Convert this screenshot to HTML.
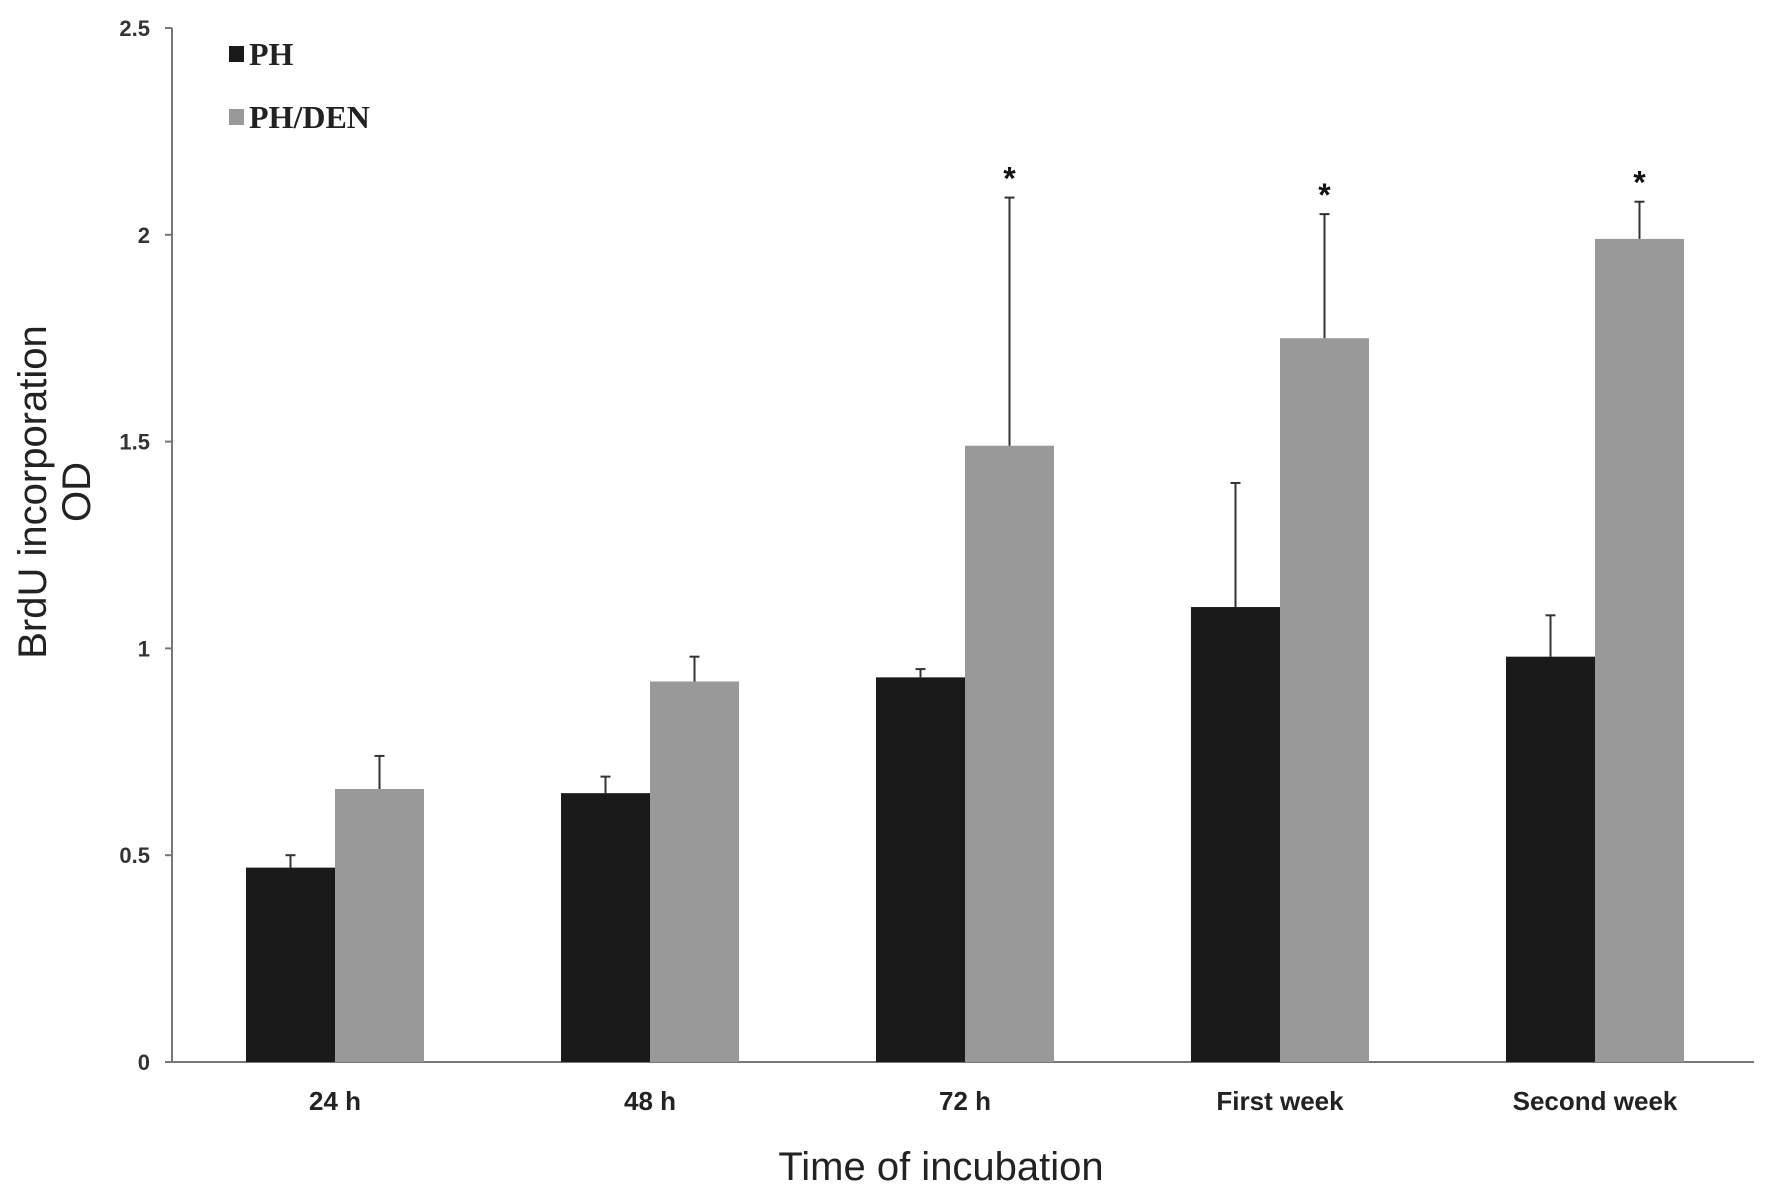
<!DOCTYPE html>
<html><head><meta charset="utf-8"><style>
body{margin:0;background:#fff;}
svg{display:block;font-family:"Liberation Sans",sans-serif;}
</style></head><body>
<svg id="chart" width="1772" height="1197" viewBox="0 0 1772 1197">
<g id="axes"></g><g id="bars"></g>
<g>
<rect x="229" y="46" width="15" height="16" fill="#1a1a1a"/>
<text x="249" y="65" font-family="Liberation Serif,serif" font-weight="bold" font-size="32" fill="#222" transform="scale(1,1)">PH</text>
<rect x="229" y="109" width="15" height="16" fill="#999"/>
<text x="249" y="128" font-family="Liberation Serif,serif" font-weight="bold" font-size="32" fill="#222">PH/DEN</text>
</g>
<text transform="translate(46,492) rotate(-90)" text-anchor="middle" font-size="40" fill="#222">BrdU incorporation</text>
<text transform="translate(90,492) rotate(-90)" text-anchor="middle" font-size="40" fill="#222">OD</text>
<text x="941" y="1180" text-anchor="middle" font-size="40" fill="#222">Time of incubation</text>
</svg>
<script>
const categories=["24 h","48 h","72 h","First week","Second week"];
const phValues=[0.47,0.65,0.93,1.10,0.98];
const phErrTop=[0.50,0.69,0.95,1.40,1.08];
const denValues=[0.66,0.92,1.49,1.75,1.99];
const denErrTop=[0.74,0.98,2.09,2.05,2.08];
const significant=[false,false,true,true,true];
const yTicks=[0,0.5,1,1.5,2,2.5];
const yTickLabels=["0","0.5","1","1.5","2","2.5"];

const NS="http://www.w3.org/2000/svg";
const y0=1062,yTop=28,yMax=2.5;
function yS(v){return y0-(y0-yTop)*v/yMax;}
const groupStart=246,groupStep=315,barW=89;
function xS(i,s){return groupStart+i*groupStep+s*barW;}
function mk(tag,attrs,parent){const e=document.createElementNS(NS,tag);for(const k in attrs)e.setAttribute(k,attrs[k]);parent.appendChild(e);return e;}
const axes=document.getElementById('axes'),bars=document.getElementById('bars');
let l=mk('line',{x1:172,y1:y0,x2:1754,y2:y0,stroke:'#777','stroke-width':2},axes);


l=mk('line',{x1:172,y1:y0,x2:172,y2:yTop,stroke:'#777','stroke-width':2},axes);


yTicks.forEach((v,i)=>{
 const t=mk('line',{x1:165,y1:yS(v),x2:172,y2:yS(v),stroke:'#777','stroke-width':2},axes);
 
 
 const tx=mk('text',{x:150,y:yS(v)+8,'text-anchor':'end','font-size':22,'font-weight':'bold',fill:'#333'},axes);
 tx.textContent=yTickLabels[i];
 
 
});
function errBar(x,v,top){
 const g=mk('g',{stroke:'#333','stroke-width':2},bars);
 
 
 mk('line',{x1:x,y1:yS(v),x2:x,y2:yS(top)},g);
 mk('line',{x1:x-5,y1:yS(top),x2:x+5,y2:yS(top)},g);
}
categories.forEach((c,i)=>{
 let r=mk('rect',{x:xS(i,0),y:yS(phValues[i]),width:barW,height:y0-yS(phValues[i]),fill:'#1a1a1a'},bars);
 
 
 r=mk('rect',{x:xS(i,1),y:yS(denValues[i]),width:barW,height:y0-yS(denValues[i]),fill:'#999'},bars);
 
 
 errBar(xS(i,0.5),phValues[i],phErrTop[i]);
 errBar(xS(i,1.5),denValues[i],denErrTop[i]);
 if(significant[i]){
  const s=mk('text',{x:xS(i,1.5),y:yS(denErrTop[i])-8,'text-anchor':'middle','font-size':32,'font-weight':'bold',fill:'#111'},bars);
  s.textContent='*';
  
  
 }
 const t=mk('text',{x:xS(i,1),y:1110,'text-anchor':'middle','font-size':26,'font-weight':'bold',fill:'#222'},bars);
 t.textContent=c;
 
 
});
</script>
</body></html>
